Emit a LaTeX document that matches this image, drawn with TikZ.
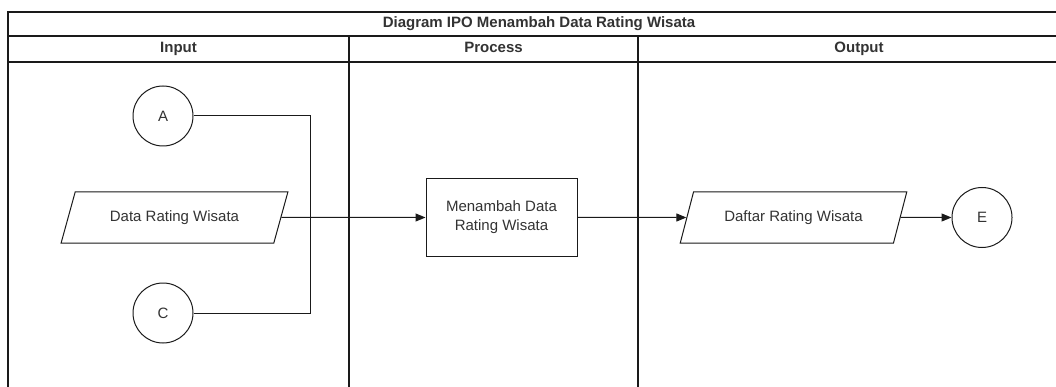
\documentclass[tikz,border=0pt]{standalone}
\usepackage{fontspec}
\setmainfont{Liberation Sans}
\usetikzlibrary{arrows.meta,shapes.geometric}
\definecolor{ink}{HTML}{1A1A1A}
\definecolor{txt}{HTML}{333333}
\tikzset{
  every node/.style={font=\fontsize{15}{19}\selectfont, text=txt},
  heading/.style={font=\fontsize{15}{19}\selectfont\bfseries, text=txt,
    text height=11pt, text depth=3pt, inner sep=0pt},
  frame/.style={draw=ink, line width=1.1pt},
  conn/.style={draw=ink, line width=1pt},
  arr/.style={conn, -{Triangle[length=10pt,width=8pt]}},
  connector/.style={circle, draw=ink, line width=1pt, minimum size=60pt, inner sep=0pt},
  procbox/.style={rectangle, draw=ink, line width=1pt, minimum width=151pt, minimum height=77pt, align=center},
  iobox/.style={trapezium, trapezium left angle=65, trapezium right angle=115,
    trapezium stretches=true, draw=ink, line width=1pt,
    minimum width=227pt, minimum height=51pt}
}
\begin{document}
\begin{tikzpicture}[x=1pt,y=-1pt]
\useasboundingbox (0,0) rectangle (1056,387);
\clip (0,0) rectangle (1056,387);
\fill[white] (0,0) rectangle (1056,387);

% swimlane frame
\draw[frame] (8,400) -- (8,12) -- (1080,12);
\draw[frame] (8,36) -- (1080,36);
\draw[frame] (8,62) -- (1080,62);
\draw[frame] (349,36) -- (349,400);
\draw[frame] (638,36) -- (638,400);

% headings
\node[heading] (title) at (539,24) {Diagram IPO Menambah Data Rating Wisata};
\node[heading] (hin) at (178.5,49) {Input};
\node[heading] (hproc) at (493.5,49) {Process};
\node[heading] (hout) at (859,49) {Output};

% shapes
\node[connector] (A) at (163,116) {A};
\node[connector] (C) at (163,313) {C};
\node[iobox] (data) at (174.5,217.5) {Data Rating Wisata};
\node[procbox] (proc) at (501.5,217.5) {Menambah Data\\Rating Wisata};
\node[iobox] (daftar) at (793.5,217.5) {Daftar Rating Wisata};
\node[connector] (E) at (982,217.5) {E};

% connectors
\coordinate (join) at (310,217.5);
\draw[conn] (A.east) -| (join);
\draw[conn] (C.east) -| (join);
\draw[arr] (data.east) -- (proc.west);
\draw[arr] (proc.east) -- (daftar.west);
\draw[arr] (daftar.east) -- (E.west);
\end{tikzpicture}
\end{document}
